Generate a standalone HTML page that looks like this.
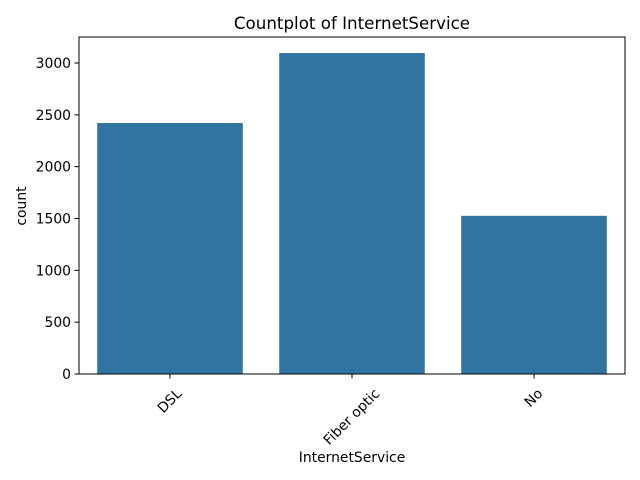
<!DOCTYPE html>
<html><head><meta charset="utf-8"><style>
body{margin:0;background:#fff;}
svg{display:block;font-family:"DejaVu Sans","Liberation Sans",sans-serif;fill:#000;}
</style></head><body>
<svg id="chart" width="640" height="480" viewBox="0 0 640 480" xmlns="http://www.w3.org/2000/svg">
<text x="352" y="29" font-size="16.7" text-anchor="middle">Countplot of InternetService</text>
<g id="bars"></g>
<g id="axes"></g>
<text x="352" y="462" font-size="13.9" text-anchor="middle">InternetService</text>
<text transform="translate(26,206) rotate(-90)" font-size="13.9" text-anchor="middle">count</text>
</svg>
<script>
const categories = ["DSL", "Fiber optic", "No"];
const counts = [2421, 3096, 1526];
const yTicks = [0, 500, 1000, 1500, 2000, 2500, 3000];

const L = 79, R = 625, B = 374;
const yMax = Math.max(...counts) * 1.05;
const T = 37;
const NS = "http://www.w3.org/2000/svg";
function y(v){ return B - v / yMax * (B - T); }
function x(i){ return L + (i + 0.5) * (R - L) / categories.length; }
const bw = 0.8 * (R - L) / categories.length;
function mk(tag, attrs, parent){ const e = document.createElementNS(NS, tag); for (const k in attrs) e.setAttribute(k, attrs[k]); parent.appendChild(e); return e; }
const bars = document.getElementById('bars');
const axes = document.getElementById('axes');
counts.forEach((c, i) => {
  const r = mk('rect', {x: x(i) - bw/2, y: y(c), width: bw, height: B - y(c), fill: '#3274a1'}, bars);
  
  
});
const frame = mk('rect', {x: L, y: T, width: R - L, height: B - T, fill: 'none', stroke: '#000', 'stroke-width': 1}, axes);


yTicks.forEach(v => {
  const g = mk('g', {}, axes);
  
  
  mk('line', {x1: L - 4.5, x2: L, y1: y(v), y2: y(v), stroke: '#000', 'stroke-width': 1}, g);
  const t = mk('text', {x: L - 8, y: y(v) + 5, 'font-size': 13.9, 'text-anchor': 'end'}, g);
  t.textContent = v;
});
categories.forEach((c, i) => {
  const g = mk('g', {}, axes);
  
  
  mk('line', {x1: x(i), x2: x(i), y1: B, y2: B + 4.5, stroke: '#000', 'stroke-width': 1}, g);
  const t = mk('text', {'font-size': 13.9, 'text-anchor': 'middle', 'dominant-baseline': 'central'}, g);
  t.textContent = c;
  const w = t.getComputedTextLength();
  const cy = 387 + (w + 13) / (2 * Math.SQRT2);
  t.setAttribute('transform', `translate(${x(i)},${cy}) rotate(-45)`);
});
</script>
</body></html>
